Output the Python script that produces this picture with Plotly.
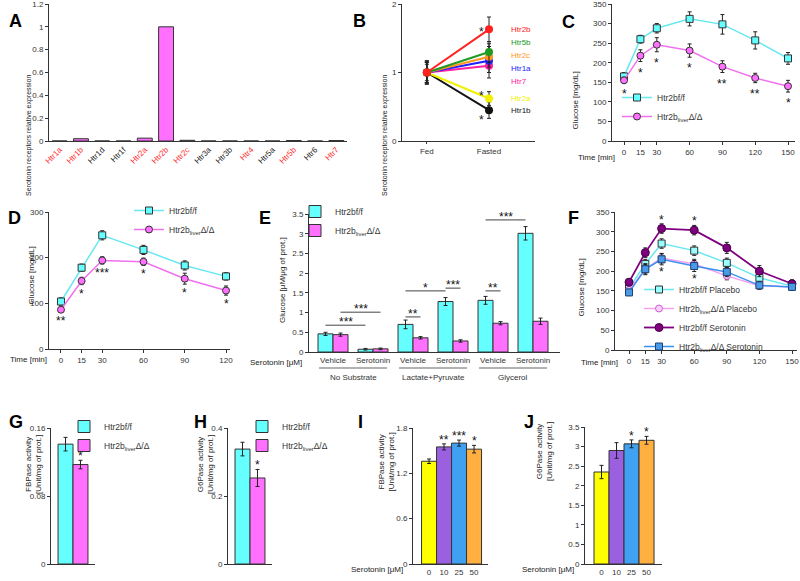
import plotly.graph_objects as go

FONT = "Liberation Sans, Arial, sans-serif"
W, H = 800, 581

# ---------------- DATA ----------------
# Panel A
a_receptors = ["Htr1a", "Htr1b", "Htr1d", "Htr1f", "Htr2a", "Htr2b", "Htr2c",
               "Htr3a", "Htr3b", "Htr4", "Htr5a", "Htr5b", "Htr6", "Htr7"]
a_expression = [0.0, 0.02, 0.0, 0.0, 0.025, 1.0, 0.006, 0.0, 0.0, 0.0, 0.0, 0.004, 0.0, 0.004]
a_label_red = [True, True, False, False, True, True, True, False, False, True, False, True, False, True]

# Panel B
b_conditions = ["Fed", "Fasted"]
b_receptors = ["Htr2b", "Htr5b", "Htr2c", "Htr1a", "Htr7", "Htr2a", "Htr1b"]
b_fed = [1.0, 1.0, 1.0, 1.0, 1.0, 1.0, 1.0]
b_fasted = [1.63, 1.30, 1.23, 1.17, 1.10, 0.62, 0.45]
b_fed_err = [0.15, 0.17, 0.15, 0.15, 0.12, 0.17, 0.15]
b_fasted_err = [0.18, 0.15, 0.15, 0.25, 0.10, 0.10, 0.12]
b_sig = ["*", "", "", "", "", "*", "*"]

# Panel C
c_time = [0, 15, 30, 60, 90, 120, 150]
c_ctrl = [165, 260, 288, 312, 298, 257, 211]
c_ctrl_err = [10, 10, 12, 18, 25, 22, 15]
c_ko = [155, 218, 246, 231, 190, 161, 140]
c_ko_err = [8, 15, 18, 17, 15, 12, 15]
c_sig = ["*", "*", "*", "*", "**", "**", "*"]

# Panel D
d_time = [0, 15, 30, 60, 90, 120]
d_ctrl = [104, 178, 249, 217, 183, 159]
d_ctrl_err = [8, 8, 10, 10, 10, 8]
d_ko = [86, 149, 194, 191, 154, 128]
d_ko_err = [6, 8, 8, 8, 12, 10]
d_sig = ["**", "*", "***", "*", "*", "*"]

# Panel E
e_treatments = ["Vehicle", "Serotonin", "Vehicle", "Serotonin", "Vehicle", "Serotonin"]
e_substrates = ["No Substrate", "Lactate+Pyruvate", "Glycerol"]
e_ctrl = [0.46, 0.07, 0.70, 1.28, 1.31, 3.01]
e_ctrl_err = [0.04, 0.02, 0.11, 0.10, 0.10, 0.17]
e_ko = [0.44, 0.08, 0.36, 0.28, 0.73, 0.78]
e_ko_err = [0.04, 0.02, 0.03, 0.03, 0.04, 0.08]
# comparisons: (bar index, genotype 0=ctrl/1=ko) -> (bar index, genotype), bracket level, label
e_comparisons = [((0, 0), (1, 0), 0.68, "***"), ((0, 1), (1, 1), 1.01, "***"),
                 ((2, 0), (2, 1), 0.89, "**"), ((2, 0), (3, 0), 1.55, "*"),
                 ((3, 0), (3, 1), 1.62, "***"), ((4, 0), (4, 1), 1.55, "**"),
                 ((4, 0), (5, 0), 3.35, "***"), ((5, 0), (5, 1), 3.52, "***")]

# Panel F
f_time = [0, 15, 30, 60, 90, 120, 150]
f_ctrl_pla = [157, 218, 270, 252, 221, 183, 162]
f_ctrl_pla_err = [8, 12, 12, 12, 12, 10, 8]
f_ko_pla = [152, 205, 233, 218, 188, 163, 160]
f_ko_pla_err = [8, 12, 12, 12, 10, 8, 8]
f_ctrl_ser = [172, 247, 308, 304, 259, 200, 168]
f_ctrl_ser_err = [8, 12, 12, 12, 14, 14, 10]
f_ko_ser = [146, 205, 230, 213, 198, 164, 160]
f_ko_ser_err = [8, 14, 14, 14, 12, 10, 8]
f_sig_top = ["", "", "*", "*", "", "", ""]
f_sig_bottom = ["", "", "*", "*", "", "", ""]

# Panel G / H
g_vals = [0.141, 0.117]
g_err = [0.008, 0.005]
h_vals = [0.338, 0.253]
h_err = [0.02, 0.025]
gh_sig = ["", "*"]

# Panel I / J
ij_doses = ["0", "10", "25", "50"]
i_vals = [1.36, 1.55, 1.60, 1.52]
i_err = [0.03, 0.04, 0.04, 0.05]
i_sig = ["", "**", "***", "*"]
j_vals = [2.35, 2.90, 3.07, 3.16]
j_err = [0.17, 0.20, 0.10, 0.10]
j_sig = ["", "", "*", "*"]

# ---------------- STYLE ----------------
CYAN = "#66FFFF"
CYAN_LINE = "#66E8F2"
MAG = "#FF70FF"
MAG_LINE = "#F070EE"
EDGE = "#333333"
B_COLORS = ["#FF2020", "#209A20", "#FF9520", "#2020FF", "#FF20A0", "#F2F200", "#111111"]
IJ_COLORS = ["#FFFF00", "#9A60E0", "#40A0F2", "#FFB040"]
KO = "Htr2b<sub>liver</sub>Δ/Δ"
CTRL = "Htr2bf/f"
TXT = 8
STAR = dict(size=12, color="#111", family=FONT)


def px(x):
    return x / W


def py(y):
    return 1 - y / H


fig = go.Figure()
annotations = []
shapes = []


def axes_names(n):
    return ("x" if n == 1 else f"x{n}"), ("y" if n == 1 else f"y{n}")


def errbar(arr):
    return dict(type="data", array=arr, color="#222", thickness=1, width=2)


# ---- A ----
xa, ya = axes_names(1)
fig.add_trace(go.Bar(x=list(range(len(a_receptors))), y=a_expression, width=0.7,
                     marker=dict(color=MAG, line=dict(color=EDGE, width=1)),
                     xaxis=xa, yaxis=ya, showlegend=False))

# ---- B ----
xa, ya = axes_names(2)
for i in reversed(range(len(b_receptors))):
    fig.add_trace(go.Scatter(x=[0, 1], y=[b_fed[i], b_fasted[i]], mode="lines+markers",
                             line=dict(color=B_COLORS[i], width=2),
                             marker=dict(size=8, color=B_COLORS[i]),
                             error_y=errbar([b_fed_err[i], b_fasted_err[i]]),
                             xaxis=xa, yaxis=ya, showlegend=False))
b_label_y = [29, 42, 55, 68, 81, 98, 111]
for i, name in enumerate(b_receptors):
    annotations.append(dict(text=name, x=px(509), y=py(b_label_y[i]), xref="paper", yref="paper",
                            xanchor="left", yanchor="middle", showarrow=False,
                            font=dict(size=TXT, color=B_COLORS[i], family=FONT)))
for i, s in enumerate(b_sig):
    if s:
        shift = {0: 0, 5: 6, 6: -7}[i]
        annotations.append(dict(text=s, x=1, y=b_fasted[i], xref=xa, yref=ya, xshift=-8, yshift=shift - 3,
                                showarrow=False, font=STAR))

# ---- C ----
xa, ya = axes_names(3)
fig.add_trace(go.Scatter(x=c_time, y=c_ctrl, mode="lines+markers", name=CTRL,
                         line=dict(color=CYAN_LINE, width=1.5),
                         marker=dict(symbol="square", size=7, color=CYAN, line=dict(color=EDGE, width=1)),
                         error_y=errbar(c_ctrl_err), xaxis=xa, yaxis=ya, legend="legend"))
fig.add_trace(go.Scatter(x=c_time, y=c_ko, mode="lines+markers", name=KO,
                         line=dict(color=MAG_LINE, width=1.5),
                         marker=dict(symbol="circle", size=7, color=MAG, line=dict(color=EDGE, width=1)),
                         error_y=errbar(c_ko_err), xaxis=xa, yaxis=ya, legend="legend"))
for t, v, e, s in zip(c_time, c_ko, c_ko_err, c_sig):
    annotations.append(dict(text=s, x=t, y=v - e, xref=xa, yref=ya, yshift=-11, showarrow=False, font=STAR))

# ---- D ----
xa, ya = axes_names(4)
fig.add_trace(go.Scatter(x=d_time, y=d_ctrl, mode="lines+markers", name=CTRL,
                         line=dict(color=CYAN_LINE, width=1.5),
                         marker=dict(symbol="square", size=7, color=CYAN, line=dict(color=EDGE, width=1)),
                         error_y=errbar(d_ctrl_err), xaxis=xa, yaxis=ya, legend="legend2"))
fig.add_trace(go.Scatter(x=d_time, y=d_ko, mode="lines+markers", name=KO,
                         line=dict(color=MAG_LINE, width=1.5),
                         marker=dict(symbol="circle", size=7, color=MAG, line=dict(color=EDGE, width=1)),
                         error_y=errbar(d_ko_err), xaxis=xa, yaxis=ya, legend="legend2"))
for t, v, e, s in zip(d_time, d_ko, d_ko_err, d_sig):
    annotations.append(dict(text=s, x=t, y=v - e, xref=xa, yref=ya, yshift=-9, showarrow=False, font=STAR))

# ---- E ----
xa, ya = axes_names(5)
e_x = list(range(len(e_treatments)))
BW = 0.375
fig.add_trace(go.Bar(x=e_x, y=e_ctrl, width=BW, offset=-BW, name=CTRL,
                     marker=dict(color=CYAN, line=dict(color=EDGE, width=1)),
                     error_y=errbar(e_ctrl_err), xaxis=xa, yaxis=ya, legend="legend3"))
fig.add_trace(go.Bar(x=e_x, y=e_ko, width=BW, offset=0, name=KO,
                     marker=dict(color=MAG, line=dict(color=EDGE, width=1)),
                     error_y=errbar(e_ko_err), xaxis=xa, yaxis=ya, legend="legend3"))
for (i0, g0), (i1, g1), lvl, lab in e_comparisons:
    x0 = i0 + (g0 - 0.5) * BW
    x1 = i1 + (g1 - 0.5) * BW
    shapes.append(dict(type="line", xref=xa, yref=ya, x0=x0, x1=x1, y0=lvl, y1=lvl,
                       line=dict(color="#444", width=1)))
    annotations.append(dict(text=lab, x=(x0 + x1) / 2, y=lvl, xref=xa, yref=ya, yshift=3,
                            showarrow=False, font=STAR))
for g, name in enumerate(e_substrates):
    shapes.append(dict(type="line", xref=xa, yref="paper", x0=2 * g - 0.35, x1=2 * g + 1.35,
                       y0=py(368), y1=py(368), line=dict(color="#999", width=1.5)))
    annotations.append(dict(text=name, x=2 * g + 0.5, y=py(377), xref=xa, yref="paper",
                            showarrow=False, font=dict(size=TXT, color="#333", family=FONT)))

# ---- F ----
xa, ya = axes_names(6)
fig.add_trace(go.Scatter(x=f_time, y=f_ctrl_pla, mode="lines+markers", name=CTRL + " Placebo",
                         line=dict(color=CYAN_LINE, width=1.5),
                         marker=dict(symbol="square", size=7, color="#9AFFFF", line=dict(color=EDGE, width=1)),
                         error_y=errbar(f_ctrl_pla_err), xaxis=xa, yaxis=ya, legend="legend6"))
fig.add_trace(go.Scatter(x=f_time, y=f_ko_pla, mode="lines+markers", name=KO + " Placebo",
                         line=dict(color="#F5A0F0", width=1.5),
                         marker=dict(symbol="circle", size=7, color="#F8D0F8", line=dict(color="#D060D0", width=1)),
                         error_y=errbar(f_ko_pla_err), xaxis=xa, yaxis=ya, legend="legend6"))
fig.add_trace(go.Scatter(x=f_time, y=f_ctrl_ser, mode="lines+markers", name=CTRL + " Serotonin",
                         line=dict(color="#800080", width=1.8),
                         marker=dict(symbol="circle", size=8, color="#800080", line=dict(color="#400040", width=1)),
                         error_y=errbar(f_ctrl_ser_err), xaxis=xa, yaxis=ya, legend="legend6"))
fig.add_trace(go.Scatter(x=f_time, y=f_ko_ser, mode="lines+markers", name=KO + " Serotonin",
                         line=dict(color="#3A90F0", width=1.5),
                         marker=dict(symbol="square", size=7, color="#4A9AE8", line=dict(color="#204070", width=1)),
                         error_y=errbar(f_ko_ser_err), xaxis=xa, yaxis=ya, legend="legend6"))
for t, v, e, s in zip(f_time, f_ctrl_ser, f_ctrl_ser_err, f_sig_top):
    if s:
        annotations.append(dict(text=s, x=t, y=v + e, xref=xa, yref=ya, yshift=4, showarrow=False, font=STAR))
for t, v, e, s in zip(f_time, f_ko_ser, f_ko_ser_err, f_sig_bottom):
    if s:
        annotations.append(dict(text=s, x=t, y=v - e, xref=xa, yref=ya, yshift=-7, showarrow=False, font=STAR))

# ---- G / H ----
for n, vals, errs, leg in [(7, g_vals, g_err, "legend4"), (8, h_vals, h_err, "legend5")]:
    xa, ya = axes_names(n)
    fig.add_trace(go.Bar(x=[0], y=[vals[0]], width=1, name=CTRL,
                         marker=dict(color=CYAN, line=dict(color=EDGE, width=1)),
                         error_y=errbar([errs[0]]), xaxis=xa, yaxis=ya, legend=leg))
    fig.add_trace(go.Bar(x=[1], y=[vals[1]], width=1, name=KO,
                         marker=dict(color=MAG, line=dict(color=EDGE, width=1)),
                         error_y=errbar([errs[1]]), xaxis=xa, yaxis=ya, legend=leg))
    for i, s in enumerate(gh_sig):
        if s:
            annotations.append(dict(text=s, x=i, y=vals[i] + errs[i], xref=xa, yref=ya, yshift=4,
                                    showarrow=False, font=STAR))

# ---- I / J ----
for n, vals, errs, sig in [(9, i_vals, i_err, i_sig), (10, j_vals, j_err, j_sig)]:
    xa, ya = axes_names(n)
    fig.add_trace(go.Bar(x=list(range(len(ij_doses))), y=vals, width=1,
                         marker=dict(color=IJ_COLORS, line=dict(color=EDGE, width=1)),
                         error_y=errbar(errs), xaxis=xa, yaxis=ya, showlegend=False))
    for i, s in enumerate(sig):
        if s:
            annotations.append(dict(text=s, x=i, y=vals[i] + errs[i], xref=xa, yref=ya, yshift=4,
                                    showarrow=False, font=STAR))

# ---------------- AXES ----------------
TICKFONT = dict(size=TXT, color="#333", family=FONT)


def base_axis(**kw):
    d = dict(showgrid=False, zeroline=False, showline=True, linecolor="#333", linewidth=1,
             ticks="outside", ticklen=3, tickcolor="#333", tickfont=TICKFONT, fixedrange=True,
             automargin=False, tickangle=0)
    d.update(kw)
    return d


panels = {
    1: dict(x=(49, 347), y=(4, 141), xr=[-0.5, 13.5], yr=[0, 1.2], ytv=[0, 0.2, 0.4, 0.6, 0.8, 1, 1.2]),
    2: dict(x=(402, 535), y=(4, 141), xr=[-0.4, 1.74], yr=[0, 2], ytv=[0, 1, 2]),
    3: dict(x=(612, 795), y=(4, 141), xr=[-11, 156.4], yr=[0, 350], ytv=list(range(0, 351, 50))),
    4: dict(x=(49, 230), y=(212, 349), xr=[-8.7, 122.9], yr=[0, 300], ytv=[0, 100, 200, 300]),
    5: dict(x=(309, 560), y=(214, 352), xr=[-0.6, 5.675], yr=[0, 3.5], ytv=[0, 0.5, 1, 1.5, 2, 2.5, 3, 3.5]),
    6: dict(x=(615, 797), y=(212, 350), xr=[-12.9, 154.6], yr=[0, 350], ytv=list(range(0, 351, 50))),
    7: dict(x=(51, 95), y=(428, 564), xr=[-0.97, 1.97], yr=[0, 0.16], ytv=[0, 0.08, 0.16]),
    8: dict(x=(228, 272), y=(428, 564), xr=[-0.97, 1.97], yr=[0, 0.4], ytv=[0, 0.2, 0.4]),
    9: dict(x=(413, 488), y=(428, 564), xr=[-1.07, 3.93], yr=[0, 1.8], ytv=[0, 0.6, 1.2, 1.8]),
    10: dict(x=(585, 662), y=(427, 564), xr=[-1.1, 4.03], yr=[0, 3.5], ytv=[0, 0.5, 1, 1.5, 2, 2.5, 3, 3.5]),
}

layout_axes = {}
for n, p in panels.items():
    xk = "xaxis" if n == 1 else f"xaxis{n}"
    yk = "yaxis" if n == 1 else f"yaxis{n}"
    xa, ya = axes_names(n)
    xax = base_axis(domain=[px(p["x"][0]), px(p["x"][1])], range=p["xr"], anchor=ya)
    yax = base_axis(domain=[py(p["y"][1]), py(p["y"][0])], range=p["yr"], anchor=xa,
                    tickvals=p["ytv"], ticktext=[f"{v:g}" for v in p["ytv"]])
    if n == 1:
        xax.update(tickvals=list(range(len(a_receptors))),
                   ticktext=[f'<span style="color:{"#FF2A2A" if r else "#222"}">{name}</span>'
                             for name, r in zip(a_receptors, a_label_red)],
                   tickangle=-45, ticks="")
    elif n == 2:
        xax.update(tickvals=[0, 1], ticktext=b_conditions, ticklen=2)
    elif n == 3:
        xax.update(tickvals=c_time, ticktext=[str(t) for t in c_time])
    elif n == 4:
        xax.update(tickvals=d_time, ticktext=[str(t) for t in d_time])
    elif n == 5:
        xax.update(tickvals=e_x, ticktext=e_treatments, ticks="")
    elif n == 6:
        xax.update(tickvals=f_time, ticktext=[str(t) for t in f_time])
    elif n in (7, 8):
        xax.update(showticklabels=False, ticks="")
    else:
        xax.update(tickvals=list(range(len(ij_doses))), ticktext=ij_doses, ticks="")
    layout_axes[xk] = xax
    layout_axes[yk] = yax


# ---------------- TEXT ----------------
def ytitle(text, x, y, size=TXT):
    annotations.append(dict(text=text, x=px(x), y=py(y), xref="paper", yref="paper", textangle=-90,
                            showarrow=False, font=dict(size=size, color="#222", family=FONT)))


ytitle("Serotonin receptors relative expression", 23, 72, size=7)
ytitle("Serotonin receptors relative expression", 385, 72, size=7)
ytitle("Glucose [mg/dL]", 582, 70)
ytitle("Glucose [mg/dL]", 24, 276)
ytitle("Glucose [μM/μg of prot.]", 282, 280)
ytitle("Glucose [mg/dL]", 587, 288)
ytitle("FBPase activity<br>[Unit/mg of prot.]", 22, 496)
ytitle("G6Pase activity<br>[Unit/mg of prot.]", 194, 496)
ytitle("FBPase activity<br>[Unit/mg of prot.]", 386, 494)
ytitle("G6Pase activity<br>[Unit/mg of prot.]", 556, 483)


def label(text, x, y, anchor="center", size=TXT):
    annotations.append(dict(text=text, x=px(x), y=py(y), xref="paper", yref="paper", xanchor=anchor,
                            showarrow=False, font=dict(size=size, color="#222", family=FONT)))


label("Time [min]", 596, 151)
label("Time [min]", 29, 359)
label("Time [min]", 599, 362)
label("Serotonin [μM]", 304, 362, anchor="right")
label("Serotonin [μM]", 405, 576, anchor="right")
label("Serotonin [μM]", 576, 576, anchor="right")

for letter, x, y in [("A", 7, 9), ("B", 359, 9), ("C", 577, 10), ("D", 6, 218), ("E", 257, 218),
                     ("F", 581, 218), ("G", 7, 434), ("H", 192, 434), ("I", 360, 434), ("J", 536, 434)]:
    annotations.append(dict(text=f"<b>{letter}</b>", x=px(x), y=py(y), xref="paper", yref="paper",
                            showarrow=False, font=dict(size=18, color="#000", family=FONT)))


# ---------------- LEGENDS ----------------
def legend_at(left, top):
    return dict(x=px(left), y=py(top), xanchor="left", yanchor="top", bgcolor="rgba(0,0,0,0)",
                font=dict(size=8.5, color="#333", family=FONT), tracegroupgap=0, itemwidth=30,
                borderwidth=0)


fig.update_layout(
    width=W, height=H, margin=dict(l=0, r=0, t=0, b=0, autoexpand=False),
    paper_bgcolor="white", plot_bgcolor="white",
    font=dict(family=FONT, size=TXT, color="#333"),
    showlegend=True,
    legend=legend_at(617, 83),
    legend2=legend_at(129, 196),
    legend3=legend_at(295, 197),
    legend4=legend_at(64, 412),
    legend5=legend_at(242, 412),
    legend6=legend_at(639, 275),
    annotations=annotations, shapes=shapes,
    **layout_axes,
)

fig.write_html("out.html", config={"displayModeBar": False},
               post_script="document.body.style.margin='0';document.body.style.overflow='hidden';")
